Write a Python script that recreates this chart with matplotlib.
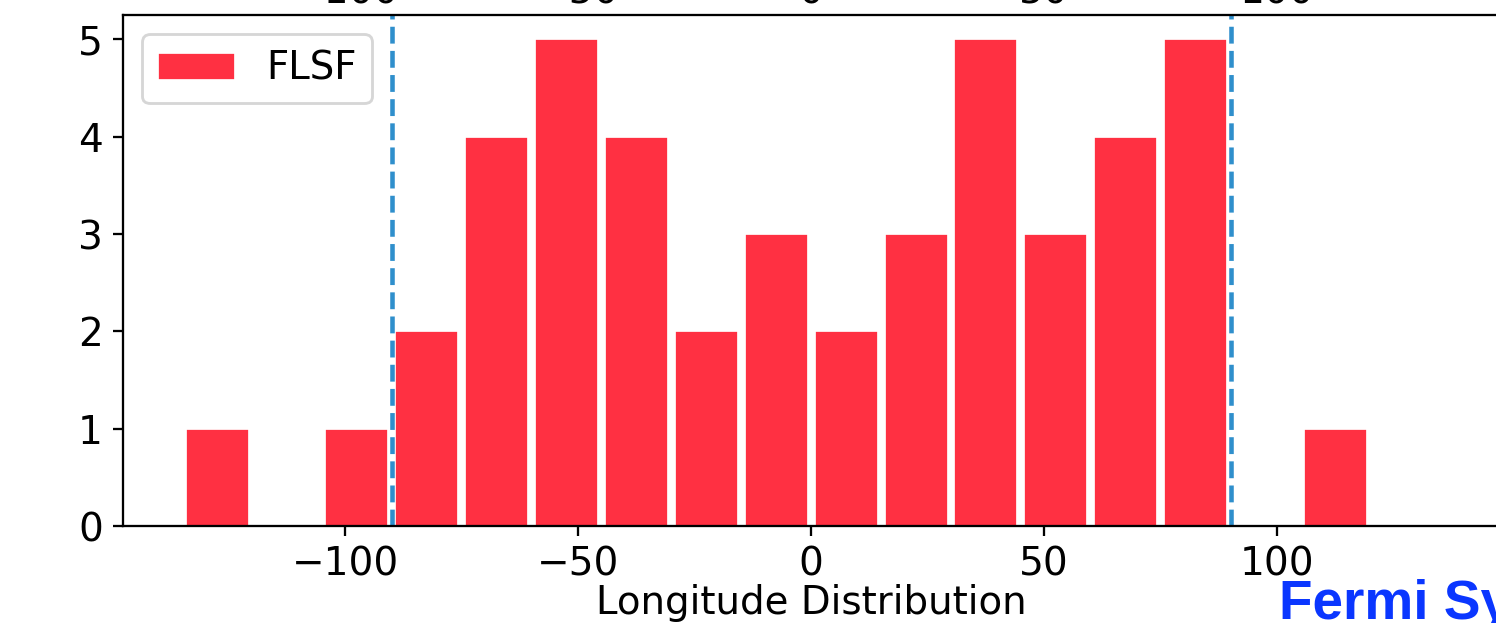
import numpy as np
import matplotlib
matplotlib.use("Agg")
import matplotlib.pyplot as plt
import matplotlib.transforms as mtransforms

# histogram of longitudes, 15 degree bins
bin_edges = [-135, -120, -105, -90, -75, -60, -45, -30, -15, 0,
             15, 30, 45, 60, 75, 90, 105, 120]
counts = [1, 0, 1, 2, 4, 5, 4, 2, 3, 2, 3, 5, 3, 4, 5, 0, 1]
bounds = [-90, 90]
top_ticks = [-100, -50, 0, 50, 100]

dpi = 205
fig = plt.figure(figsize=(1496 / dpi, 623 / dpi), dpi=dpi)
W, H = 1496.0, 623.0
ax = fig.add_axes([122.7 / W, 97 / H, 1377 / W, 511 / H])

edges = np.array(bin_edges, dtype=float)
centers = (edges[:-1] + edges[1:]) / 2
widths = np.diff(edges) * 0.9
ax.bar(centers, counts, width=widths, color="#ff3042", edgecolor="white",
       linewidth=0.6, label="FLSF")
for b in bounds:
    ax.axvline(b, color="#2f8fcc", linestyle="--", linewidth=1.6)

ax.set_xlim(-147.75, 147.75)
ax.set_ylim(0, 5.25)
ax.set_xticks([-100, -50, 0, 50, 100])
ax.set_yticks([0, 1, 2, 3, 4, 5])
ax.tick_params(labelsize=13.7)
ax.set_xlabel("Longitude Distribution", fontsize=13.6, labelpad=0)
ax.legend(loc="upper left", fontsize=13.6)

# tick labels of the panel above, mostly cut off
trans = mtransforms.blended_transform_factory(ax.transData, fig.transFigure)
for t in top_ticks:
    lab = str(t).replace("-", "\u2212")
    fig.text(t, 1 - 3 / H, lab, transform=trans, ha="center",
             va="baseline", fontsize=13.7)

fig.text(1279 / W, 4 / H, "Fermi Symposium", color="#0a36ff",
         fontsize=19.3, fontweight="bold", family="Liberation Sans",
         ha="left", va="baseline")

fig.savefig("out.png", dpi=dpi)
